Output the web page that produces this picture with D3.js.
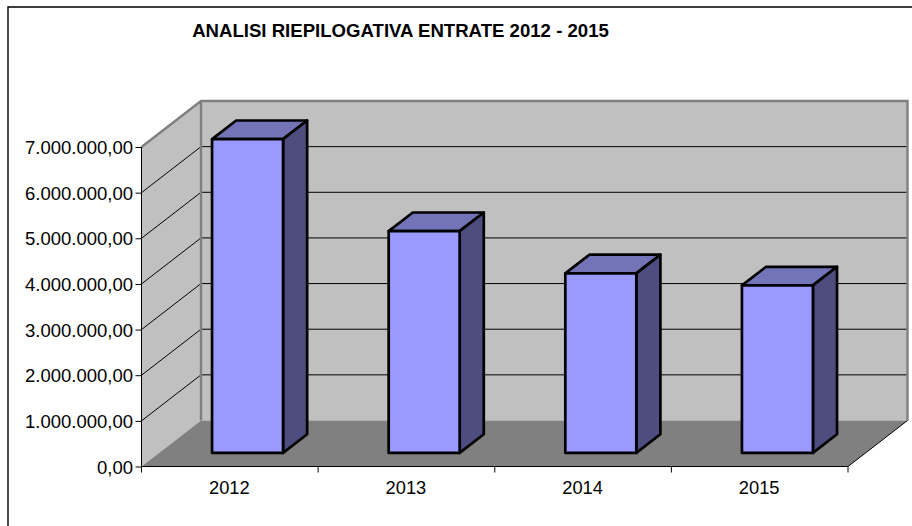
<!DOCTYPE html>
<html><head><meta charset="utf-8"><script src="https://cdn.jsdelivr.net/npm/d3@7"></script>
<style>html,body{margin:0;padding:0;background:#fff}svg{display:block}text{font-family:"Liberation Sans",Arial,sans-serif;fill:#000}</style>
</head><body><svg id="c" width="912" height="526"></svg>
<script>
const title = "ANALISI RIEPILOGATIVA ENTRATE 2012 - 2015";
const categories = ["2012","2013","2014","2015"];
const values = [6875000,4860000,3935000,3670000];
const yTicks = [0,1000000,2000000,3000000,4000000,5000000,6000000,7000000];
const tickLabels = ["0,00","1.000.000,00","2.000.000,00","3.000.000,00","4.000.000,00","5.000.000,00","6.000.000,00","7.000.000,00"];

const svg = d3.select("#c");
const x0 = 141.5, x1 = 848, yB = 466.5, yT = 147, dx = 59.5, dy = -46;
const y = d3.scaleLinear().domain([0,7000000]).range([yB,yT]);
const x = d3.scaleBand().domain(categories).range([x0,x1]);
const barW = 71, barLeft = 53, depthFront = 0.295, depthBack = 0.70;
const line = d3.line();
const poly = (pts,fill,stroke,sw)=>svg.append("path").attr("d",line(pts)+"Z").attr("fill",fill)
  .attr("stroke",stroke||"none").attr("stroke-width",sw||0).attr("stroke-linejoin","round");
const seg = (a,b,stroke,sw)=>svg.append("path").attr("d",line([a,b])).attr("stroke",stroke).attr("stroke-width",sw).attr("fill","none");

// frame
svg.append("path").attr("d",line([[8,526],[8,7],[912,7]])).attr("fill","none").attr("stroke","#000").attr("stroke-width",1.4);

// walls and floor
const bx0=x0+dx, bx1=x1+dx, byB=yB+dy, byT=yT+dy;
poly([[bx0,byT],[bx1,byT],[bx1,byB],[bx0,byB]],"#c0c0c0");
poly([[x0,yT],[bx0,byT],[bx0,byB],[x0,yB]],"#c0c0c0");
poly([[x0,yB],[bx0,byB],[bx1,byB],[x1,yB]],"#808080");

// gridlines
yTicks.slice(1,-1).forEach(t=>{
  seg([x0,y(t)],[bx0,y(t)+dy],"#000",1);
  seg([bx0,y(t)+dy],[bx1,y(t)+dy],"#000",1);
});

// wall edges
svg.append("path").attr("d",line([[x0,yT],[bx0,byT],[bx1,byT],[bx1,byB]])).attr("fill","none").attr("stroke","#808080").attr("stroke-width",2.4);
seg([bx0,byT],[bx0,byB],"#808080",2.4);
seg([bx1,byB],[x1,yB],"#000",1);

// axes
seg([x0,yT],[x0,yB],"#000",1);
seg([x0,yB],[x1,yB],"#000",1);
const yAxis = d3.axisLeft(y).tickValues(yTicks).tickSize(6).tickFormat((d,i)=>tickLabels[i]);
const gy = svg.append("g").attr("transform",`translate(${x0},0)`).call(yAxis);
gy.select(".domain").remove();
gy.selectAll("line").attr("stroke","#000");
gy.selectAll("text").attr("font-size",18.5).attr("x",-8.5).attr("dy","0.36em").attr("fill","#000");
gy.attr("font-family",null);
categories.concat(["end"]).forEach((c)=>{
  const tx = c==="end"?x1:x(c);
  seg([tx,yB],[tx,yB+6],"#000",1);
});
categories.forEach(c=>{
  svg.append("text").attr("x",x(c)+x.bandwidth()/2-0.5).attr("y",494).attr("text-anchor","middle").attr("font-size",18.3).text(c);
});

// bars
categories.forEach((c,i)=>{
  const v = values[i];
  const fx0 = x(c)+barLeft+dx*depthFront, fx1 = fx0+barW;
  const by = y(0)+dy*depthFront, ty = y(v)+dy*depthFront;
  const ox = dx*(depthBack-depthFront), oy = dy*(depthBack-depthFront);
  const s = "#000", w = 2.7;
  poly([[fx0,ty],[fx0+ox,ty+oy],[fx1+ox,ty+oy],[fx1,ty]],"#7373b8",s,w);
  poly([[fx1,ty],[fx1+ox,ty+oy],[fx1+ox,by+oy],[fx1,by]],"#4d4d80",s,w);
  poly([[fx0,ty],[fx1,ty],[fx1,by],[fx0,by]],"#9999ff",s,w);
});

svg.append("text").attr("x",400.5).attr("y",37).attr("text-anchor","middle").attr("font-size",18.6).attr("font-weight","bold").text(title);
</script></body></html>
